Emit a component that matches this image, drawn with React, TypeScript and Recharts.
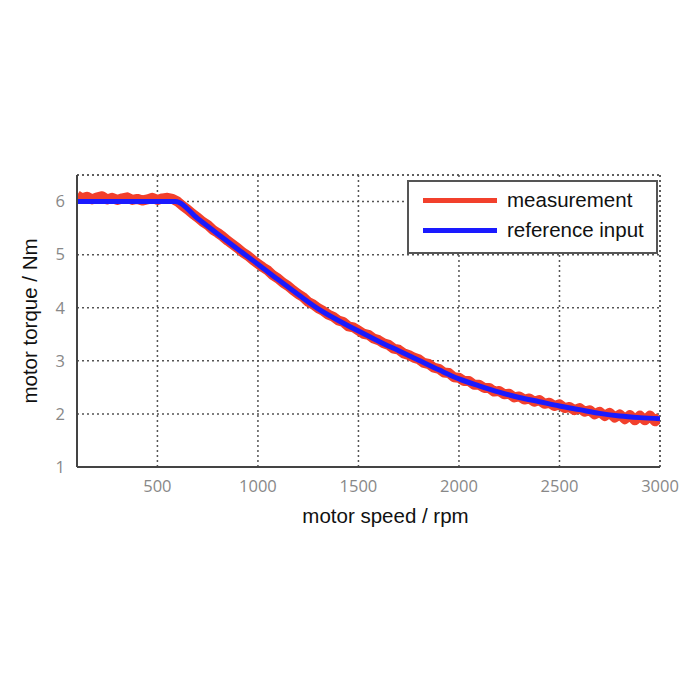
import React from 'react';
import { LineChart, Line, XAxis, YAxis, CartesianGrid, ReferenceLine, Legend } from 'recharts';

// reference input (speed rpm, torque Nm)
const refSpeed = [100, 200, 300, 400, 500, 590, 700, 800, 900, 1000, 1100, 1200, 1300, 1400, 1500, 1600, 1700, 1800, 1900, 2000, 2100, 2200, 2300, 2400, 2500, 2600, 2700, 2800, 2900, 3000];
const refTorque = [6.0, 6.0, 6.0, 6.0, 6.0, 6.0, 5.68, 5.39, 5.1, 4.82, 4.53, 4.25, 3.98, 3.76, 3.56, 3.37, 3.19, 3.01, 2.83, 2.66, 2.53, 2.41, 2.31, 2.23, 2.15, 2.08, 2.01, 1.96, 1.93, 1.91];

// measurement every 25 rpm from 100 to 3000
const measStart = 100;
const measStep = 25;
const measTorque = [
  6.12, 6.06, 6.09, 6.04, 6.08, 6.10, 6.04, 6.07, 6.03, 6.06, 6.08, 6.03, 6.05, 6.02, 6.04, 6.07, 6.03, 6.06, 6.07, 6.05,
  6.00, 5.92, 5.85, 5.77, 5.70, 5.62, 5.56, 5.47, 5.41, 5.34, 5.26, 5.19, 5.12, 5.04, 4.98, 4.90, 4.83, 4.76, 4.70, 4.61,
  4.55, 4.47, 4.41, 4.33, 4.26, 4.20, 4.11, 4.06, 3.99, 3.94, 3.87, 3.83, 3.76, 3.73, 3.65, 3.63, 3.57, 3.51, 3.49, 3.42,
  3.39, 3.33, 3.30, 3.23, 3.21, 3.14, 3.11, 3.06, 3.03, 2.96, 2.94, 2.87, 2.85, 2.78, 2.77, 2.69, 2.68, 2.62, 2.62, 2.55,
  2.55, 2.49, 2.49, 2.42, 2.43, 2.37, 2.38, 2.31, 2.33, 2.27, 2.29, 2.23, 2.26, 2.19, 2.21, 2.15, 2.18, 2.11, 2.13, 2.07,
  2.11, 2.04, 2.07, 1.99, 2.04, 1.96, 2.02, 1.93, 1.99, 1.90, 1.98, 1.88, 1.97, 1.88, 1.97, 1.86, 1.94,
];

const xTicks = [500, 1000, 1500, 2000, 2500, 3000];
const yTicks = [1, 2, 3, 4, 5, 6];

const seriesNames = ['measurement', 'reference input'];
const seriesColors = ['#f2402c', '#1a1aff'];

const measData = measTorque.map((t, i) => ({ speed: measStart + i * measStep, torque: t }));
const refData = refSpeed.map((s, i) => ({ speed: s, torque: refTorque[i] }));

const LegendBox = () => (
  <div
    style={{
      width: 247,
      height: 70,
      border: '2px solid #555',
      background: '#fff',
      fontFamily: 'Liberation Sans, Arial, sans-serif',
      fontSize: 20.5,
      color: '#111',
      position: 'relative',
    }}
  >
    {seriesNames.map((n, i) => (
      <div key={n} style={{ position: 'absolute', left: 14, top: 6 + i * 30, height: 24, display: 'flex', alignItems: 'center' }}>
        <div style={{ width: 74, height: 5, background: seriesColors[i], marginRight: 10 }} />
        <span style={{ lineHeight: '24px' }}>{n}</span>
      </div>
    ))}
  </div>
);

export default function App() {
  return (
    <LineChart width={684} height={560} margin={{ top: 167, right: 32, left: 0, bottom: 41 }}>
      <CartesianGrid stroke="#555" strokeDasharray="2 3" strokeWidth={1.5} horizontal vertical />
      <XAxis
        dataKey="speed"
        type="number"
        domain={[100, 3000]}
        ticks={xTicks}
        allowDataOverflow
        height={60}
        stroke="#444"
        strokeWidth={2}
        tickLine={false}
        tick={{ fill: '#888', fontSize: 16.5, fontFamily: 'Open Sans, sans-serif' }}
        tickMargin={7}
        label={{ value: 'motor speed / rpm', position: 'insideBottom', offset: 4, dx: 17, fill: '#111', fontSize: 20.5, fontFamily: 'Liberation Sans, Arial, sans-serif' }}
      />
      <YAxis
        dataKey="torque"
        type="number"
        domain={[1, 6.5]}
        ticks={yTicks}
        allowDataOverflow
        width={69}
        stroke="#444"
        strokeWidth={2}
        tickLine={false}
        tick={{ fill: '#888', fontSize: 16.5, fontFamily: 'Open Sans, sans-serif' }}
        tickMargin={6}
        label={{ value: 'motor torque / Nm', angle: -90, position: 'insideLeft', offset: 22, fill: '#111', fontSize: 20.5, fontFamily: 'Liberation Sans, Arial, sans-serif', style: { textAnchor: 'middle' } }}
      />
      <ReferenceLine y={6.5} stroke="#555" strokeDasharray="2 3" strokeWidth={1.5} />
      <ReferenceLine x={3000} stroke="#555" strokeDasharray="2 3" strokeWidth={1.5} />
      <Line
        data={measData}
        dataKey="torque"
        name={seriesNames[0]}
        stroke={seriesColors[0]}
        strokeWidth={10}
        strokeLinejoin="round"
        strokeLinecap="butt"
        dot={false}
        type="linear"
        isAnimationActive={false}
      />
      <Line
        data={refData}
        dataKey="torque"
        name={seriesNames[1]}
        stroke={seriesColors[1]}
        strokeWidth={5}
        dot={false}
        type="monotone"
        isAnimationActive={false}
      />
      <Legend content={<LegendBox />} wrapperStyle={{ position: 'absolute', left: 399, top: 172, width: 251, height: 0, overflow: 'visible' }} />
    </LineChart>
  );
}
